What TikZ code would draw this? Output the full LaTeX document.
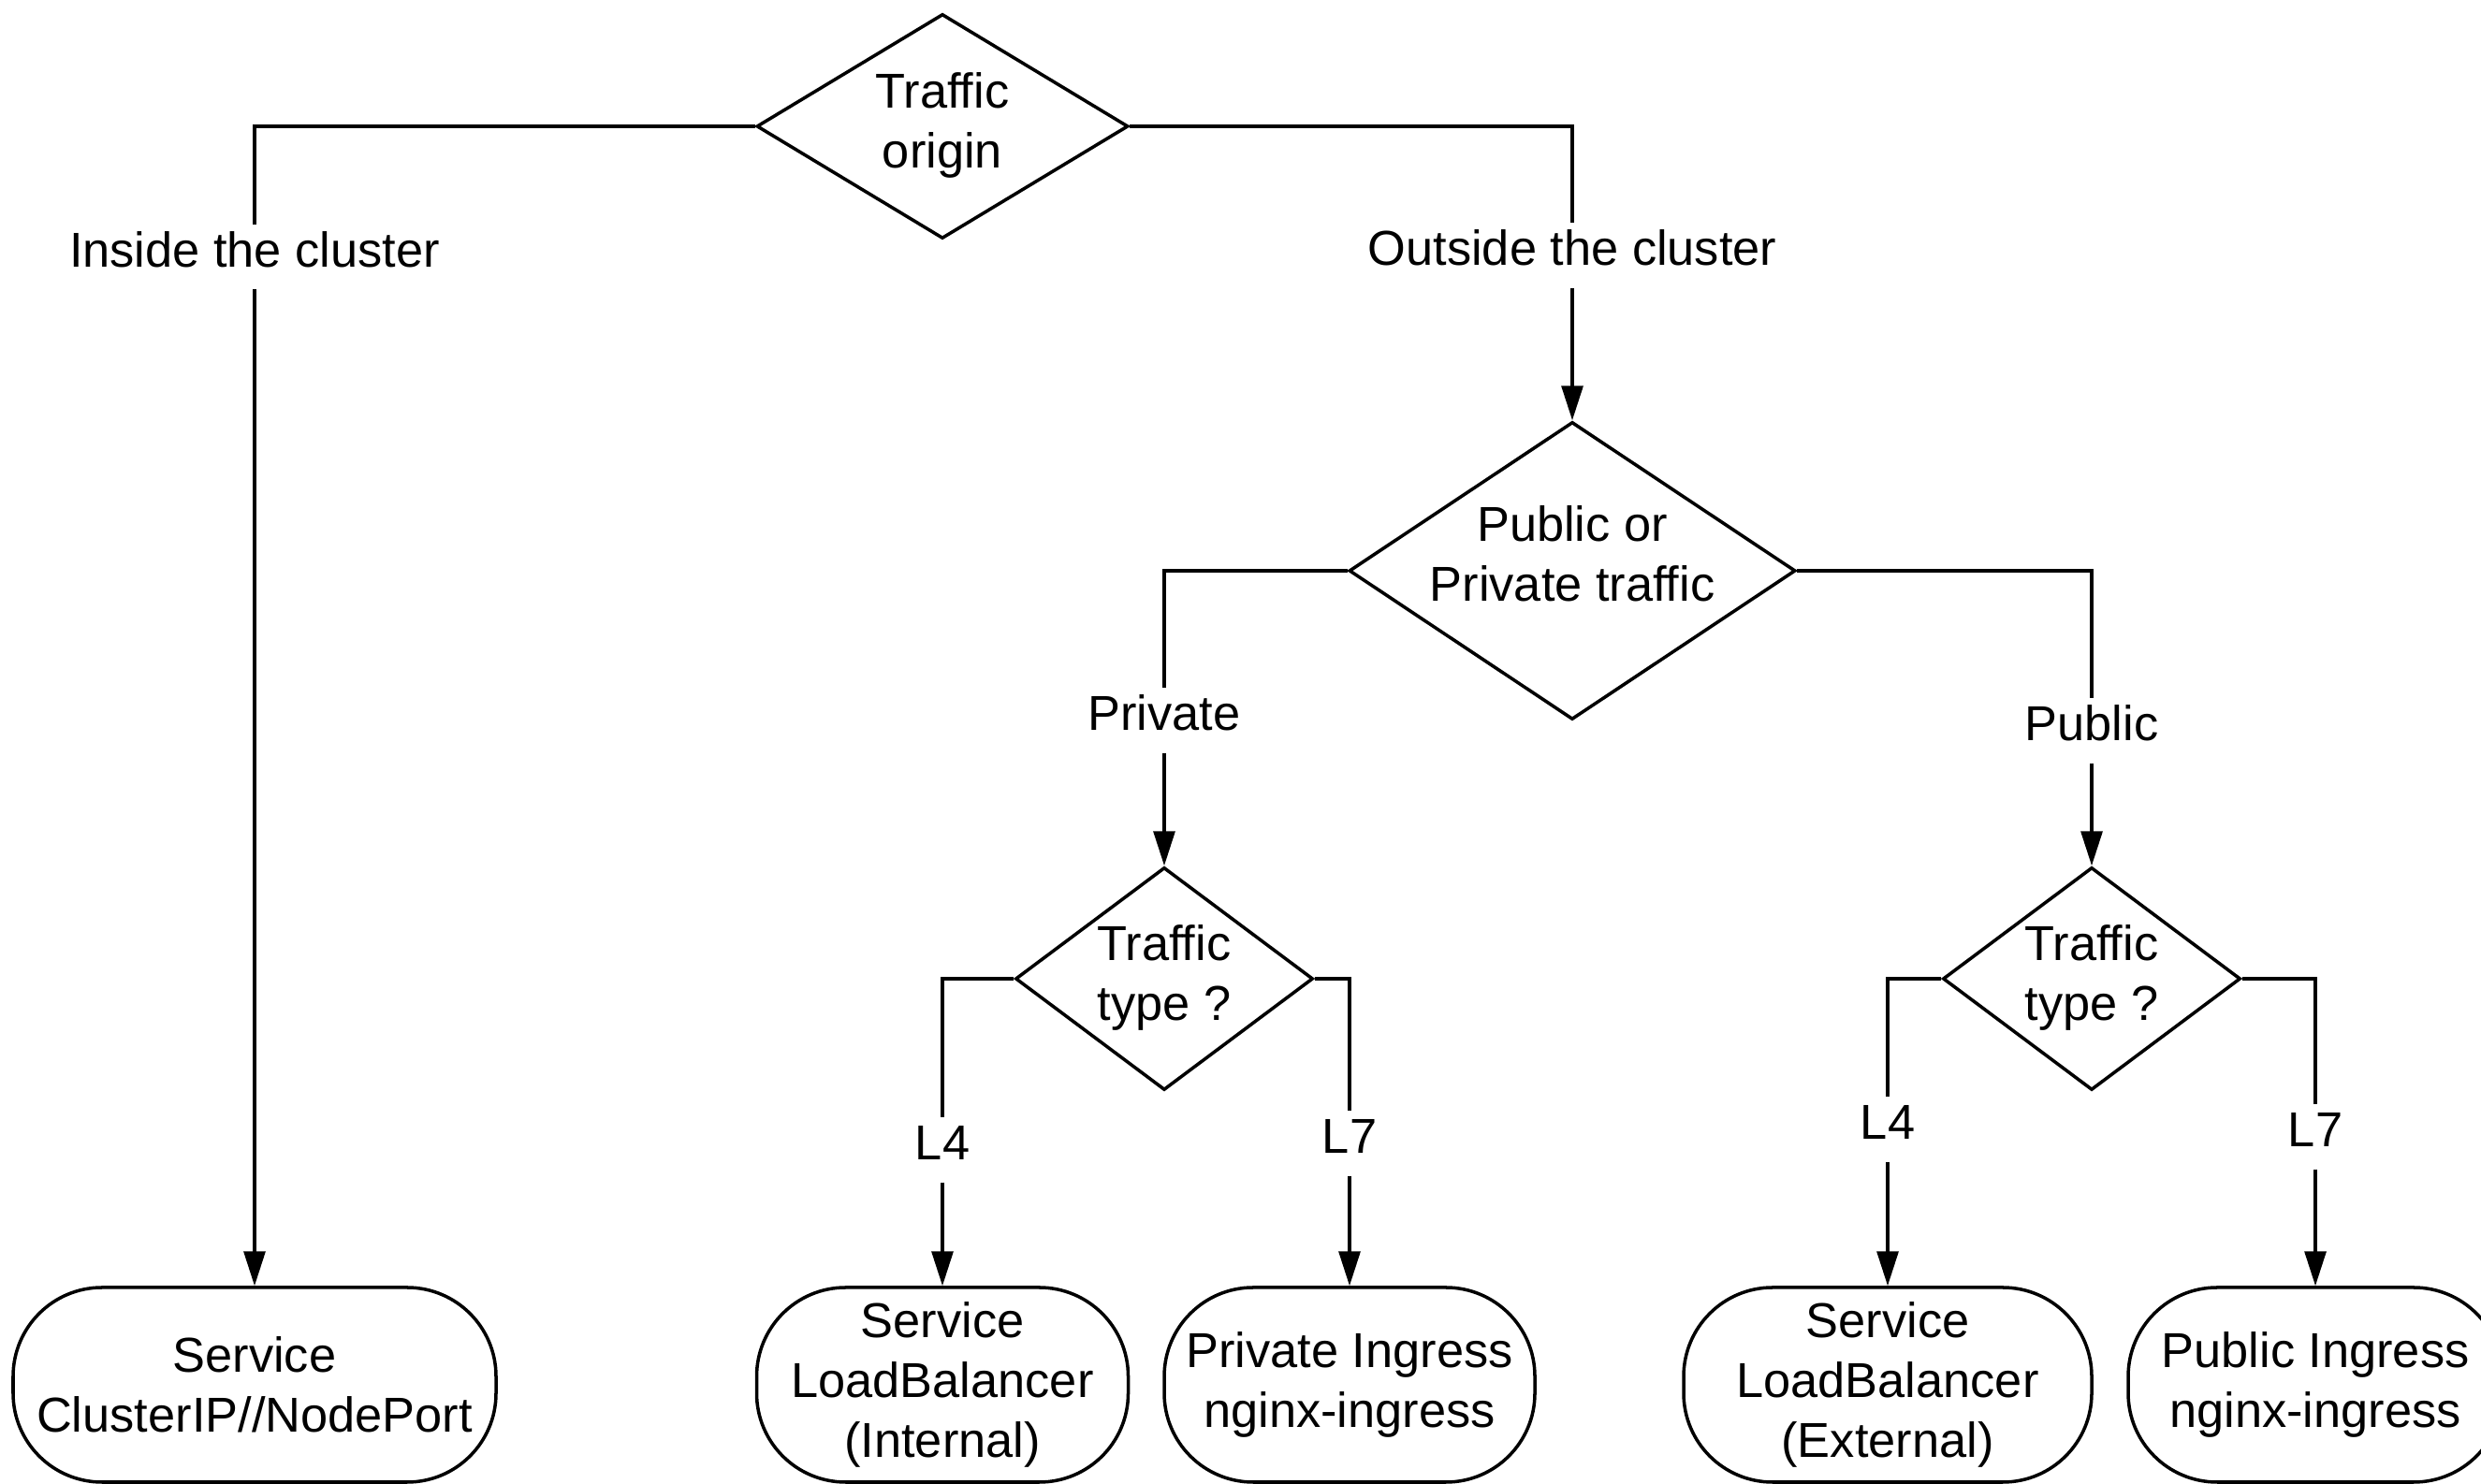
\documentclass[tikz,border=0pt]{standalone}
\usepackage{fontspec}
\setmainfont{Liberation Sans}
\usetikzlibrary{shapes.geometric,arrows.meta}
\newcommand{\dlines}[1]{\begin{tabular}{@{}c@{}}#1\end{tabular}}
\newcommand{\dtext}[2][0pt]{\makebox[0pt]{\raisebox{#1}[0pt][0pt]{\dlines{#2}}\vphantom{\dlines{#2}}}}
\begin{document}
\begin{tikzpicture}[line width=1pt,align=center,every node/.style={font=\fontsize{14.9}{18.2}\selectfont},
    dec/.style args={#1/#2}{draw,diamond,inner sep=0pt,minimum width=#1cm,minimum height=#2cm},
    term/.style={draw,rectangle,rounded corners=0.95cm,minimum height=2.08cm,minimum width=#1cm},
    lbl/.style={inner sep=1.5pt,text height=10.9pt,text depth=4.8pt},
    >={Triangle[length=10.5pt,width=6.5pt]}]
    \useasboundingbox (0,0) rectangle (26.51,15.86);
	\node (0) [dec=3.97/2.40] at (10.07,14.51) {\dtext{Traffic\\origin}};
	\node (2) [dec=4.77/3.18] at (16.80,9.76) {\dtext[0.12cm]{Public or\\Private traffic}};
	\node (3) [dec=3.18/2.38] at (12.44,5.40) {\dtext{Traffic\\type ?}};
	\node (4) [dec=3.18/2.38] at (22.35,5.40) {\dtext{Traffic\\type ?}};
	\node (1) [term=5.16] at (2.72,1.06) {Service\\ClusterIP//NodePort};
	\node (5) [term=3.97] at (10.07,1.06) {Service\\LoadBalancer\\(Internal)};
	\node (6) [term=3.96] at (14.42,1.06) {Private Ingress\\nginx-ingress};
	\node (7) [term=4.36] at (20.17,1.06) {Service\\LoadBalancer\\(External)};
	\node (8) [term=4.00] at (24.74,1.06) {Public Ingress\\nginx-ingress};
	\node (a) [lbl] at (2.72,13.115) {Inside the cluster};
	\node (b) [lbl] at (16.80,13.13) {Outside the cluster};
	\node (c) [lbl] at (12.44,8.16) {Private};
	\node (d) [lbl] at (22.35,8.05) {Public};
	\node (e) [lbl] at (10.07,3.57) {L4};
	\node (f) [lbl] at (14.42,3.64) {L7};
	\node (g) [lbl] at (20.17,3.79) {L4};
	\node (h) [lbl] at (24.74,3.71) {L7};
    \draw (0.west) -| (a.north);
    \draw (0.east) -| (b.north);
    \draw (2.west) -| (c.north);
    \draw (2.east) -| (d.north);
    \draw (3.west) -| (e.north);
    \draw (3.east) -| (f.north);
    \draw (4.west) -| (g.north);
    \draw (4.east) -| (h.north);
    \path[->]
        (a) edge (1)
        (b) edge (2)
        (c) edge (3)
        (d) edge (4)
        (e) edge (5)
        (f) edge (6)
        (g) edge (7)
        (h) edge (8);
\end{tikzpicture}
\end{document}
